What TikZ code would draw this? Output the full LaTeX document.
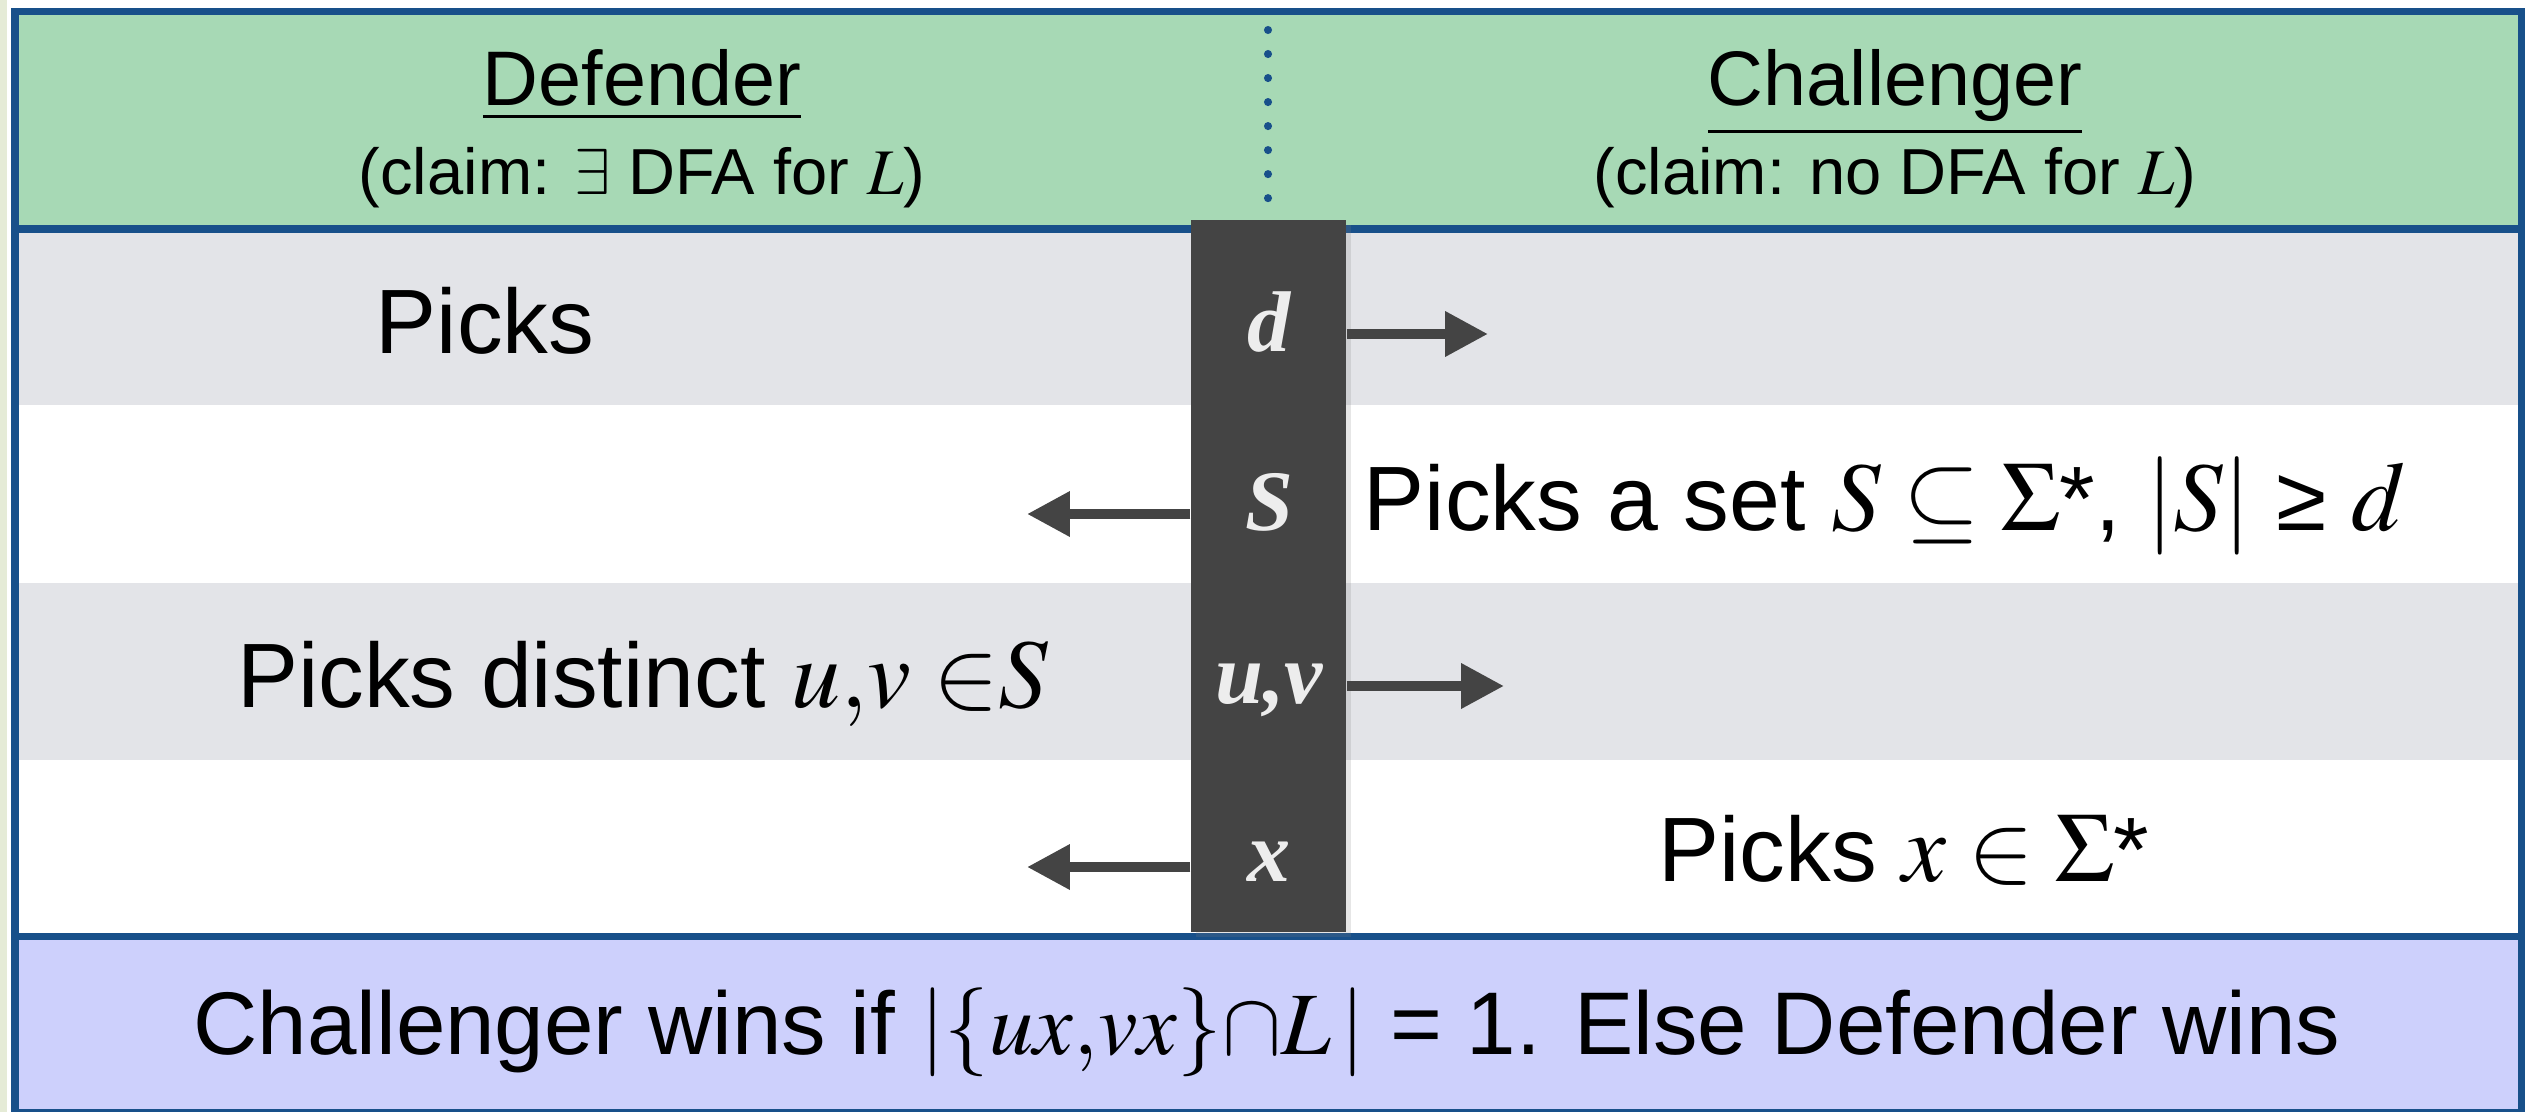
\documentclass[tikz,border=0pt]{standalone}
\usepackage{mathptmx}
\usepackage{fontspec}
\setmainfont{Liberation Sans}
\newfontfamily\colfont{Liberation Serif}
\usetikzlibrary{positioning,arrows.meta,shadows}

\definecolor{frame}{RGB}{24,80,138}
\definecolor{headgreen}{RGB}{167,217,181}
\definecolor{rowgray}{RGB}{227,228,232}
\definecolor{footblue}{RGB}{205,208,252}
\definecolor{colgray}{RGB}{68,68,68}
\definecolor{edgestrip}{RGB}{229,235,214}

% slightly larger math, as in the slide
\newcommand\slidemath[1]{{\fontsize{28}{30}\selectfont$#1$}}

\begin{document}
\begin{tikzpicture}
[
  x=0.01cm, y=-0.01cm,
  rule/.style={draw=frame, line width=2.2pt},
  role/.style={font=\fontsize{22}{26}\selectfont, inner sep=0pt},
  claim/.style={font=\fontsize{18.5}{22}\selectfont, inner sep=0pt},
  play/.style={font=\fontsize{26}{30}\selectfont, inner sep=0pt},
  move/.style={font=\fontsize{24.5}{28}\selectfont\colfont\bfseries\itshape, text=white!93!black, inner sep=0pt},
  pass/.style={draw=colgray, line width=2.85pt, -{Triangle[length=12.2pt,width=12.2pt]}}
]
 \useasboundingbox (0,0) rectangle (2536,1112);

 % table background
 \fill[edgestrip] (0,0) rectangle (7,1112);
 \fill[headgreen] (15,11) rectangle (2522,229);
 \fill[rowgray] (15,229) rectangle (2522,405);
 \fill[rowgray] (15,583) rectangle (2522,760);
 \fill[footblue] (15,936) rectangle (2522,1112);
 \draw[rule] (15,229) -- (2522,229);
 \draw[rule] (15,936.5) -- (2522,936.5);
 \draw[rule] (15,11.5) rectangle (2521.5,1113);
 \draw[frame, line width=2.3pt, line cap=round, dash pattern=on 0pt off 6.83pt] (1268,30) -- (1268,222);

 % players
 \node[role, anchor=base] (defender) at (642,105) {\underline{Defender}};
 \node[claim, below=0.89cm of defender.base, anchor=base] (defclaim) {(claim: $\exists$ DFA for $L$)};
 \node[role, anchor=base] (challenger) at (1895,105) {\underline{Challenger}};
 \node[claim, below=0.89cm of challenger.base, anchor=base] (chclaim) {(claim: no DFA for $L$)};

 % message column
 \node[fill=colgray, minimum width=1.55cm, minimum height=7.12cm, inner sep=0pt,
       drop shadow={shadow xshift=1.5pt, shadow yshift=-1.5pt, opacity=.2}] (col) at (1268.5,576) {};
 \node[move, anchor=base] (md) at (1269,351) {d};
 \node[move, anchor=base] (mS) at (1269,530) {S};
 \node[move, anchor=base] (muv) at (1269,703) {u,v};
 \node[move, anchor=base] (mx) at (1269,881) {x};

 % moves
 \node[play, anchor=base] (pick1) at (485,353) {Picks};
 \node[play, anchor=base west] (pick2) at (1363,530) {Picks a set \slidemath{S \;{\subseteq}\; \Sigma}*, \slidemath{|S|} ≥ \slidemath{d}};
 \node[play, anchor=base] (pick3) at (643,707) {Picks distinct \slidemath{u{,}v\;{\in}S}};
 \node[play, anchor=base] (pick4) at (1904,881) {Picks \slidemath{x \in \Sigma}*};
 \node[play, font=\fontsize{25.3}{30}\selectfont, anchor=base] (verdict) at (1267,1054)
   {Challenger wins if $|\{ux{,}vx\}{\cap}L\,|$ = 1. Else Defender wins};

 \coordinate (dto) at (1488,334);
 \coordinate (sto) at (1027,514);
 \coordinate (uvto) at (1504,686);
 \coordinate (xto) at (1027,867);
 \draw[pass] (col.east |- dto) -- (dto);
 \draw[pass] (col.west |- sto) -- (sto);
 \draw[pass] (col.east |- uvto) -- (uvto);
 \draw[pass] (col.west |- xto) -- (xto);
\end{tikzpicture}
\end{document}
